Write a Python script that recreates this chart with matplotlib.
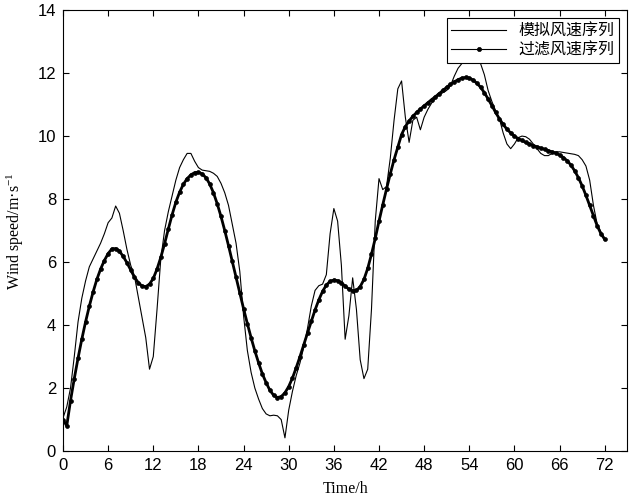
#!/usr/bin/env python3

import numpy as np
import matplotlib
matplotlib.use('Agg')
import matplotlib.pyplot as plt

# time axis, half-hour steps
hours = np.arange(0, 72.5, 0.5)

# simulated wind speed series (m/s)
sim_speed = [
    1.05, 1.40, 2.00, 3.00, 4.10, 4.85, 5.40, 5.85, 6.10, 6.35,
    6.60, 6.90, 7.25, 7.40, 7.78, 7.55, 7.00, 6.40, 5.90, 5.55,
    4.90, 4.25, 3.60, 2.60, 3.00, 4.50, 6.10, 7.00, 7.60, 8.10,
    8.60, 9.00, 9.25, 9.45, 9.45, 9.20, 9.00, 8.92, 8.90, 8.88,
    8.82, 8.72, 8.50, 8.20, 7.80, 7.20, 6.60, 5.70, 4.30, 3.20,
    2.50, 2.00, 1.65, 1.35, 1.18, 1.12, 1.14, 1.12, 1.00, 0.42,
    1.30, 1.90, 2.40, 2.80, 3.30, 3.90, 4.60, 5.10, 5.25, 5.30,
    5.60, 6.90, 7.70, 7.30, 5.90, 3.55, 4.30, 5.50, 4.50, 2.90,
    2.30, 2.60, 4.50, 7.30, 8.65, 8.30, 8.40, 9.30, 10.50, 11.50,
    11.75, 10.60, 9.80, 10.50, 10.60, 10.20, 10.60, 10.85, 11.05, 11.20,
    11.30, 11.38, 11.45, 11.60, 11.90, 12.15, 12.30, 12.40, 12.45, 12.45,
    12.40, 12.30, 11.95, 11.45, 11.10, 10.80, 10.55, 10.10, 9.75, 9.60,
    9.75, 9.95, 10.00, 9.98, 9.90, 9.75, 9.60, 9.45, 9.38, 9.38,
    9.45, 9.50, 9.50, 9.48, 9.46, 9.44, 9.42, 9.38, 9.25, 9.05,
    8.60, 7.80, 7.20, 6.95, 6.75,
]

# filtered wind speed series (m/s)
filt_speed = [
    1.00, 0.80, 1.60, 2.30, 2.95, 3.55, 4.10, 4.60, 5.05, 5.45,
    5.78, 6.05, 6.27, 6.42, 6.43, 6.35, 6.18, 5.98, 5.75, 5.52,
    5.35, 5.24, 5.22, 5.30, 5.48, 5.78, 6.15, 6.58, 7.05, 7.50,
    7.90, 8.22, 8.47, 8.65, 8.77, 8.84, 8.85, 8.80, 8.68, 8.48,
    8.20, 7.85, 7.45, 7.00, 6.52, 6.02, 5.52, 5.02, 4.52, 4.05,
    3.60, 3.18, 2.80, 2.45, 2.17, 1.93, 1.77, 1.70, 1.73, 1.85,
    2.05, 2.32, 2.65, 3.00, 3.38, 3.75, 4.12, 4.48, 4.80, 5.07,
    5.27, 5.39, 5.43, 5.41, 5.34, 5.24, 5.14, 5.09, 5.10, 5.22,
    5.45, 5.80, 6.25, 6.75, 7.30, 7.82, 8.32, 8.80, 9.25, 9.65,
    10.05, 10.30, 10.48, 10.63, 10.75, 10.86, 10.96, 11.06, 11.16, 11.25,
    11.35, 11.45, 11.55, 11.64, 11.72, 11.79, 11.84, 11.86, 11.84, 11.78,
    11.68, 11.55, 11.38, 11.18, 10.97, 10.75, 10.55, 10.37, 10.22, 10.10,
    10.00, 9.92, 9.86, 9.80, 9.75, 9.70, 9.66, 9.62, 9.58, 9.54,
    9.50, 9.46, 9.40, 9.32, 9.22, 9.08, 8.90, 8.68, 8.42, 8.12,
    7.80, 7.47, 7.15, 6.90, 6.72,
]

x_ticks = list(range(0, 73, 6))
y_ticks = list(range(0, 15, 2))

plt.rcParams['mathtext.fontset'] = 'custom'
plt.rcParams['mathtext.rm'] = 'Liberation Serif'
plt.rcParams['mathtext.it'] = 'Liberation Serif:italic'


def main():
    fig = plt.figure(figsize=(6.33, 5.04), dpi=100)
    ax = fig.add_axes([0.0995, 0.105, 0.8915, 0.875])

    ax.plot(hours, sim_speed, color='black', linewidth=0.8,
            label='模拟风速序列')
    ax.plot(hours, filt_speed, color='black', linewidth=2.0,
            marker='o', markersize=2.8, markeredgewidth=0.5,
            label='过滤风速序列')

    ax.set_xlim(0, 75)
    ax.set_ylim(0, 14)
    ax.set_xticks(x_ticks)
    ax.set_yticks(y_ticks)
    ax.tick_params(direction='in', top=True, right=True, length=4,
                   labelsize=12, pad=5)
    for lab in ax.get_xticklabels() + ax.get_yticklabels():
        lab.set_family('Liberation Sans')

    ax.set_xlabel('Time/h', family='Liberation Serif', fontsize=11.5,
                  labelpad=6)
    ax.set_ylabel('Wind speed/m·s$^{-1}$', family='Liberation Serif',
                  fontsize=11.5, labelpad=8)

    leg = ax.legend(loc='upper right', fancybox=False, framealpha=1,
                    edgecolor='black', borderaxespad=0.5, handlelength=3.4,
                    numpoints=1,
                    prop={'family': ['Noto Sans CJK SC', 'DejaVu Sans'],
                          'size': 11.5},
                    borderpad=0.3, labelspacing=0.1)
    leg.get_frame().set_linewidth(0.8)
    handle = leg.legend_handles[1]
    handle.set_linewidth(0.8)
    handle.set_markersize(3)

    fig.savefig('out.png', dpi=100)


if __name__ == "__main__":
    main()
